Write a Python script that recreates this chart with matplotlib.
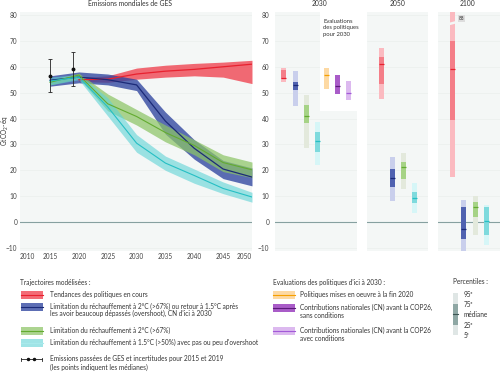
import matplotlib
matplotlib.use('Agg')
import matplotlib.pyplot as plt
from matplotlib.patches import Rectangle

plt.rcParams['font.family'] = ['Lato', 'DejaVu Sans']

W, H = 500, 372
FS = 4.7
TXT = '#333333'

# --- trajectories (GtCO2-eq) ---
years = [2015, 2020, 2025, 2030, 2035, 2040, 2045, 2050]
red_years = [2020, 2025, 2030, 2035, 2040, 2045, 2050]
red_med = [55.0, 55.2, 57.2, 58.3, 59.0, 60.0, 61.0]
red_lo = [54.3, 54.0, 55.2, 56.0, 56.5, 56.0, 53.5]
red_hi = [55.8, 56.5, 59.5, 60.6, 61.3, 61.8, 62.5]

blue_med = [54.8, 56.0, 55.0, 53.0, 39.0, 28.5, 20.5, 17.4]
blue_lo = [52.5, 53.8, 53.0, 50.8, 34.0, 24.3, 16.8, 14.0]
blue_hi = [56.5, 58.0, 57.2, 55.2, 42.5, 31.8, 23.8, 20.9]

green_med = [54.0, 56.8, 45.7, 40.8, 34.6, 29.6, 23.0, 20.2]
green_lo = [53.0, 55.5, 43.0, 37.5, 31.0, 26.0, 19.5, 17.2]
green_hi = [55.0, 57.5, 49.5, 43.5, 37.5, 31.8, 26.0, 23.2]

cyan_med = [54.5, 56.0, 44.5, 30.5, 22.8, 18.0, 13.0, 9.7]
cyan_lo = [53.0, 55.0, 41.0, 27.0, 20.0, 15.0, 11.0, 7.7]
cyan_hi = [56.0, 57.0, 48.0, 33.8, 25.5, 20.5, 15.5, 11.5]

hist_years = [2015, 2019]
hist_med = [56.4, 59.3]
hist_lo = [50.1, 52.7]
hist_hi = [62.9, 65.8]

# --- percentile boxes: p5, p25, median, p75, p95 ---
b2030_p5 = [54.2, 45.0, 28.5, 22.0, 51.4, 49.5, 47.0]
b2030_p25 = [55.2, 51.0, 38.2, 27.2, 51.4, 49.5, 47.0]
b2030_med = [55.8, 53.0, 41.0, 31.5, 56.8, 52.5, 49.8]
b2030_p75 = [58.8, 54.2, 45.2, 34.9, 59.5, 56.7, 54.4]
b2030_p95 = [59.5, 58.4, 49.0, 38.5, 59.5, 56.7, 54.4]

b2050_p5 = [47.7, 8.3, 12.7, 3.6]
b2050_p25 = [53.5, 13.7, 16.5, 7.5]
b2050_med = [61.0, 16.9, 21.2, 9.4]
b2050_p75 = [63.9, 20.4, 23.3, 11.8]
b2050_p95 = [67.1, 25.0, 26.6, 15.0]

b2100_p5 = [17.5, -11.0, -5.0, -8.8]
b2100_p25 = [39.4, -6.5, 2.1, -4.8]
b2100_med = [59.0, -2.7, 5.7, 0.5]
b2100_p75 = [70.0, 6.0, 7.9, 6.0]
b2100_p95 = [88.0, 8.5, 10.0, 6.6]

# colours
RED_BAND, RED_LINE = '#ef3341', '#e8212f'
BLUE_BAND, BLUE_LINE = '#2f459f', '#1b2a78'
GREEN_BAND, GREEN_LINE = '#8cc466', '#63ab30'
CYAN_BAND, CYAN_LINE = '#5fd3d6', '#26bfc4'

box_red = ('#fbbac0', '#f47e88', '#e8212f')
box_blue = ('#c9cfec', '#5062b0', '#1b2a78')
box_green = ('#e3e9dc', '#a6d386', '#63ab30')
box_cyan = ('#d6f6f7', '#7edadd', '#26bfc4')
box_orange = ('#fdd9a3', '#fdd9a3', '#f5a000')
box_purple = ('#a95cc8', '#a95cc8', '#5c1a7a')
box_lpurple = ('#dcb9ef', '#dcb9ef', '#a25ad8')

BG = '#f4f7f6'
ZERO = '#86a0a0'
YMIN, YMAX = -11, 81


def frame(l, t, r, b):
    return [l / W, 1 - b / H, (r - l) / W, (b - t) / H]


def style(ax, show_y):
    ax.set_facecolor(BG)
    for s in ax.spines.values():
        s.set_visible(False)
    ax.set_ylim(YMIN, YMAX)
    ax.set_yticks(range(-10, 81, 10))
    for v in range(-10, 81, 10):
        if v != 0:
            ax.axhline(v, color='#e8edeb', lw=0.4, zorder=0.2)
    ax.axhline(0, color=ZERO, lw=0.8, zorder=0.6)
    ax.tick_params(length=0, labelsize=FS, colors='#444444', pad=2)
    if not show_y:
        ax.set_yticklabels([])


fig = plt.figure(figsize=(W / 100, H / 100), dpi=100)

# ---------- main panel ----------
ax = fig.add_axes(frame(20, 12.4, 252, 250.6))
style(ax, True)
ax.set_xlim(2009.8, 2050)
ax.set_xticks([2011.1, 2015, 2020, 2025, 2030, 2035, 2040, 2045, 2048.6])
ax.set_xticklabels(['2010', '2015', '2020', '2025', '2030', '2035', '2040', '2045', '2050'])

ax.fill_between(red_years, red_lo, red_hi, color=RED_BAND, alpha=0.72, lw=0, zorder=1)
ax.fill_between(years, blue_lo, blue_hi, color=BLUE_BAND, alpha=0.78, lw=0, zorder=1)
ax.fill_between(years, green_lo, green_hi, color=GREEN_BAND, alpha=0.72, lw=0, zorder=1)
ax.fill_between(years, cyan_lo, cyan_hi, color=CYAN_BAND, alpha=0.6, lw=0, zorder=1)
ax.plot(red_years, red_med, color=RED_LINE, lw=0.9, zorder=2)
ax.plot(years, blue_med, color=BLUE_LINE, lw=0.9, zorder=2)
ax.plot(years, green_med, color=GREEN_LINE, lw=0.8, zorder=2)
ax.plot(years, cyan_med, color=CYAN_LINE, lw=0.8, zorder=2)

yerr = [[m - lo for m, lo in zip(hist_med, hist_lo)], [hi - m for m, hi in zip(hist_med, hist_hi)]]
ax.errorbar(hist_years, hist_med, yerr=yerr, fmt='o', ms=1.8, color='#111111',
            ecolor='#222222', elinewidth=0.6, capsize=1.5, capthick=0.6, ls='none', zorder=3)

fig.text(130 / W, 1 - 4 / H, 'Emissions mondiales de GES', ha='center', va='center',
         fontsize=FS + 0.2, color=TXT)
fig.text(5 / W, 1 - 131 / H, 'GtCO$_2$-éq', rotation=90, ha='center', va='center',
         fontsize=FS, color=TXT)


def draw_boxes(ax, xs, p5, p25, med, p75, p95, cols, w=5):
    for x, a, b, m, c, d, (light, dark, mc) in zip(xs, p5, p25, med, p75, p95, cols):
        ax.bar(x, d - a, bottom=a, width=w, color=light, lw=0, zorder=1)
        ax.bar(x, c - b, bottom=b, width=w, color=dark, lw=0, zorder=1.1)
        ax.plot([x - w / 2, x + w / 2], [m, m], color=mc, lw=0.9, zorder=1.2,
                solid_capstyle='butt')


# ---------- 2030 ----------
a30 = fig.add_axes(frame(275, 12.4, 357, 250.6))
style(a30, True)
a30.tick_params(axis='y', pad=4)
a30.set_xlim(0, 82)
a30.set_xticks([])
a30.add_patch(Rectangle((45, 43), 37, 40, color='white', lw=0, zorder=0.3))
a30.text(48, 78.5, 'Evaluations\ndes politiques\npour 2030', ha='left', va='top',
         fontsize=FS - 0.5, color=TXT, linespacing=1.35)
draw_boxes(a30, [8, 20, 31, 42, 51, 62, 73], b2030_p5, b2030_p25, b2030_med, b2030_p75,
           b2030_p95, [box_red, box_blue, box_green, box_cyan, box_orange, box_purple, box_lpurple])
fig.text(320 / W, 1 - 4 / H, '2030', ha='center', va='center', fontsize=FS + 0.2, color=TXT)

# ---------- 2050 ----------
a50 = fig.add_axes(frame(367, 12.4, 428, 250.6))
style(a50, False)
a50.set_xlim(0, 61)
a50.set_xticks([])
draw_boxes(a50, [14, 25, 36, 47], b2050_p5, b2050_p25, b2050_med, b2050_p75, b2050_p95,
           [box_red, box_blue, box_green, box_cyan])
fig.text(398 / W, 1 - 4 / H, '2050', ha='center', va='center', fontsize=FS + 0.2, color=TXT)

# ---------- 2100 ----------
a100 = fig.add_axes(frame(438, 12.4, 500, 250.6))
style(a100, False)
a100.set_xlim(0, 62)
a100.set_xticks([])
draw_boxes(a100, [14, 25, 37, 48], b2100_p5, b2100_p25, b2100_med, b2100_p75, b2100_p95,
           [box_red, box_blue, box_green, box_cyan])
# axis break on the red 95th percentile bar (value off scale)
a100.fill([11, 17, 17, 11], [76.0, 76.6, 77.6, 77.0], color=BG, lw=0, zorder=1.5)
a100.text(21, 78.6, str(int(b2100_p95[0])), ha='left', va='center', fontsize=3.4, color=TXT,
          bbox=dict(boxstyle='square,pad=0.15', fc='#dddddd', ec='none'))
fig.text(467 / W, 1 - 4 / H, '2100', ha='center', va='center', fontsize=FS + 0.2, color=TXT)

# ---------- legend (pixel coordinates) ----------
lg = fig.add_axes([0, 0, 1, 1])
lg.set_xlim(0, W)
lg.set_ylim(H, 0)
lg.axis('off')


def patch(x, y, band, line, alpha=1.0):
    lg.add_patch(Rectangle((x, y - 4), 22, 8, color=band, alpha=alpha, lw=0))
    lg.plot([x, x + 22], [y, y], color=line, lw=0.8)


def txt(x, y, s, **kw):
    lg.text(x, y, s, ha='left', va='center', fontsize=FS, color=TXT, **kw)


txt(20, 282, 'Trajectoires modélisées :')
patch(21, 294.5, RED_BAND, RED_LINE, 0.72)
txt(50, 294.3, 'Tendances des politiques en cours')
patch(21, 307, BLUE_BAND, BLUE_LINE, 0.78)
txt(50, 306.5, 'Limitation du réchauffement à 2°C (>67%) ou retour à 1.5°C après')
txt(50, 313.5, 'les avoir beaucoup dépassés (overshoot), CN d\'ici à 2030')
patch(21, 331, GREEN_BAND, GREEN_LINE, 0.72)
txt(50, 330.7, 'Limitation du réchauffement à 2°C (>67%)')
patch(21, 343, CYAN_BAND, '#a8e9eb', 0.6)
txt(50, 342.3, 'Limitation du réchauffement à 1.5°C (>50%) avec pas ou peu d\'overshoot')
lg.plot([21, 42], [359, 359], color='#222222', lw=0.6)
lg.plot([21, 21], [357.5, 360.5], color='#222222', lw=0.6)
lg.plot([42, 42], [357.5, 360.5], color='#222222', lw=0.6)
lg.plot([28.3, 34.3], [359, 359], 'o', color='#111111', ms=1.5)
txt(50, 359, 'Emissions passées de GES et incertitudes pour 2015 et 2019')
txt(50, 367.7, '(les points indiquent les médianes)')

txt(273, 282, 'Evaluations des politiques d\'ici à 2030 :')
patch(273, 294.5, box_orange[0], box_orange[2])
txt(300, 294.3, 'Politiques mises en oeuvre à la fin 2020')
patch(273, 307.5, box_purple[0], box_purple[2])
txt(300, 307.3, 'Contributions nationales (CN) avant la COP26,')
txt(300, 315, 'sans conditions')
patch(273, 331, box_lpurple[0], box_lpurple[2])
txt(300, 330.7, 'Contributions nationales (CN) avant la COP26')
txt(300, 338.7, 'avec conditions')

txt(453, 282, 'Percentiles :')
lg.add_patch(Rectangle((453, 293.3), 4.6, 41.7, color='#dfe6e5', lw=0))
lg.add_patch(Rectangle((453, 304.3), 4.6, 20.7, color='#8ea7a4', lw=0))
lg.plot([453, 457.6], [314.3, 314.3], color='#3c5553', lw=0.8)
for yy, s in zip([294.3, 304.3, 314.3, 325, 335], ['95ᵉ', '75ᵉ', 'médiane', '25ᵉ', '5ᵉ']):
    txt(464, yy, s)

fig.savefig('out.png', dpi=100)
